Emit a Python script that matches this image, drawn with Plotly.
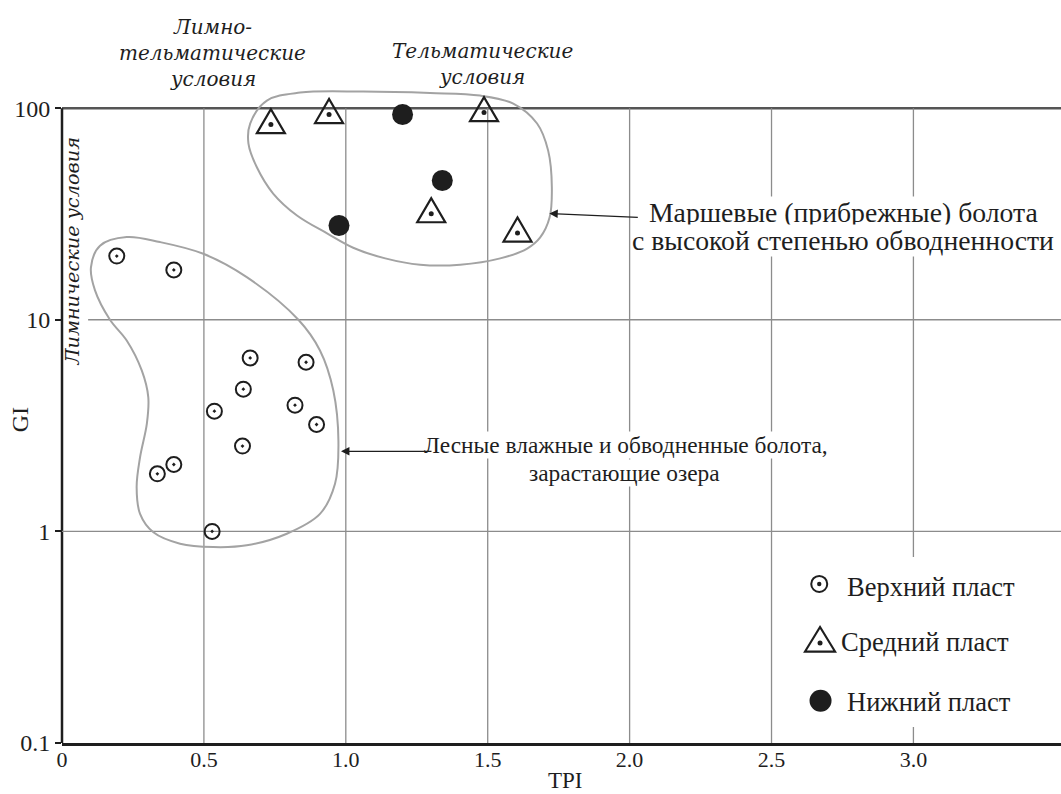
import numpy as np
import plotly.graph_objects as go

# ---- TPI / GI indices by seam layer ----
upper_tpi = [0.193, 0.394, 0.663, 0.860, 0.639, 0.537, 0.821, 0.897, 0.636, 0.394, 0.336, 0.529]
upper_gi = [20.0, 17.2, 6.6, 6.3, 4.7, 3.7, 3.95, 3.2, 2.53, 2.07, 1.87, 1.0]

middle_tpi = [0.736, 0.941, 1.487, 1.301, 1.605]
middle_gi = [83.6, 93.3, 95.3, 31.7, 25.7]

lower_tpi = [1.200, 1.340, 0.976]
lower_gi = [93.3, 45.5, 27.9]

# ---- outlines of the two facies fields (TPI, GI) ----
forest_tpi = [0.228, 0.345, 0.498, 0.651, 0.833, 0.909, 0.956, 0.974, 0.962, 0.909,
              0.792, 0.651, 0.533, 0.416, 0.322, 0.275, 0.263, 0.275, 0.299, 0.304,
              0.281, 0.228, 0.169, 0.116, 0.102, 0.134]
forest_gi = [24.6, 23.3, 20.5, 15.9, 10.0, 7.16, 4.63, 2.66, 1.68, 1.21,
             0.975, 0.859, 0.843, 0.875, 0.99, 1.21, 1.62, 2.24, 3.23, 4.31,
             5.76, 7.98, 10.0, 13.8, 17.7, 22.4]

marsh_tpi = [0.722, 0.839, 1.061, 1.297, 1.473, 1.590, 1.674, 1.713, 1.726, 1.718,
             1.685, 1.639, 1.544, 1.403, 1.262, 1.139, 1.026, 0.934, 0.828, 0.744,
             0.687, 0.657, 0.663]
marsh_gi = [108.6, 118.5, 119.8, 117.9, 114.7, 105.1, 84.6, 63.0, 42.2, 30.4,
            24.5, 21.7, 19.5, 18.2, 18.2, 19.5, 21.9, 25.6, 31.1, 39.5,
            52.4, 68.0, 84.6]

x_ticks = [0, 0.5, 1.0, 1.5, 2.0, 2.5, 3.0]
x_tick_text = ["0", "0.5", "1.0", "1.5", "2.0", "2.5", "3.0"]
y_ticks = [0.1, 1, 10, 100]
y_tick_text = ["0.1", "1", "10", "100"]
y_grid = [1, 10]
y_grid_start = [0.0, 0.092]   # the GI=10 line leaves room for the rotated label

SERIF = "Liberation Serif, Times New Roman, serif"
ITAL_FACE = "DejaVu Serif, serif"
GRID = "#8c8c8c"
OUTLINE = "#a3a3a3"
INK = "#1e1e1e"

fig = go.Figure()

# facies field outlines (closed smooth curves)
for tx, gy in ((forest_tpi, forest_gi), (marsh_tpi, marsh_gi)):
    fig.add_trace(go.Scatter(
        x=tx + tx[:1], y=gy + gy[:1], mode="lines",
        line=dict(color=OUTLINE, width=2, shape="spline", smoothing=1.0),
        hoverinfo="skip", showlegend=False))

fig.add_trace(go.Scatter(
    x=upper_tpi, y=upper_gi, mode="markers", name="Верхний пласт",
    marker=dict(symbol="circle-open-dot", size=15, color=INK, line=dict(width=2, color=INK)),
    cliponaxis=False, showlegend=False))

fig.add_trace(go.Scatter(
    x=middle_tpi, y=middle_gi, mode="markers", name="Средний пласт",
    marker=dict(symbol="circle", size=5, color=INK),
    cliponaxis=False, showlegend=False))

fig.add_trace(go.Scatter(
    x=lower_tpi, y=lower_gi, mode="markers", name="Нижний пласт",
    marker=dict(symbol="circle", size=21, color=INK),
    cliponaxis=False, showlegend=False))

# triangle outlines around the middle-layer points
tri_path = "M-14,-8.5 L14,-8.5 L0,15.5 Z"
for tx, gy in zip(middle_tpi, middle_gi):
    fig.add_shape(type="path", xref="x", yref="y", xsizemode="pixel", ysizemode="pixel",
                  xanchor=tx, yanchor=gy, path=tri_path,
                  line=dict(color=INK, width=2.2), layer="above")

# grid
for xv in x_ticks[1:]:
    fig.add_shape(type="line", xref="x", yref="y", x0=xv, x1=xv, y0=y_ticks[0], y1=y_ticks[-1],
                  line=dict(color=GRID, width=1.3), layer="below")
for yv, xs in zip(y_grid, y_grid_start):
    fig.add_shape(type="line", xref="x", yref="y", x0=xs, x1=3.52, y0=yv, y1=yv,
                  line=dict(color=GRID, width=1.3), layer="below")

# frame: top edge at GI=100 and left edge
fig.add_shape(type="line", xref="paper", yref="y", x0=0, x1=1, y0=y_ticks[-1], y1=y_ticks[-1],
              line=dict(color="#555555", width=2.5), layer="below")
fig.add_shape(type="line", xref="paper", yref="y", x0=0, x1=0, y0=y_ticks[0], y1=y_ticks[-1],
              line=dict(color=INK, width=2.5), layer="below")

# ---- legend ----
fig.add_shape(type="rect", xref="paper", yref="paper", x0=0.7287, x1=1.0, y0=0.0244, y1=0.2835,
              line=dict(width=0), fillcolor="white", layer="above")
fig.add_shape(type="circle", xref="paper", yref="paper", xsizemode="pixel", ysizemode="pixel",
              xanchor=0.758, yanchor=0.2424, x0=-8, x1=8, y0=-8, y1=8,
              line=dict(color=INK, width=2), layer="above")
fig.add_shape(type="circle", xref="paper", yref="paper", xsizemode="pixel", ysizemode="pixel",
              xanchor=0.758, yanchor=0.2424, x0=-2.2, x1=2.2, y0=-2.2, y1=2.2,
              line=dict(width=0), fillcolor=INK, layer="above")
fig.add_shape(type="path", xref="paper", yref="paper", xsizemode="pixel", ysizemode="pixel",
              xanchor=0.7588, yanchor=0.1524, path="M-15,-8.5 L15,-8.5 L0,16 Z",
              line=dict(color=INK, width=2.2), layer="above")
fig.add_shape(type="circle", xref="paper", yref="paper", xsizemode="pixel", ysizemode="pixel",
              xanchor=0.7588, yanchor=0.1524, x0=-2.5, x1=2.5, y0=-2.5, y1=2.5,
              line=dict(width=0), fillcolor=INK, layer="above")
fig.add_shape(type="circle", xref="paper", yref="paper", xsizemode="pixel", ysizemode="pixel",
              xanchor=0.7593, yanchor=0.0645, x0=-11, x1=11, y0=-11, y1=11,
              line=dict(width=0), fillcolor=INK, layer="above")

legend_font = dict(family=SERIF, size=26.5, color=INK)
for label, lx, ly in (("Верхний пласт", 0.7838, 0.2378),
                      ("Средний пласт", 0.7778, 0.154),
                      ("Нижний пласт", 0.7838, 0.0625)):
    fig.add_annotation(text=label, xref="paper", yref="paper", x=lx, y=ly,
                       xanchor="left", yanchor="middle", showarrow=False, font=legend_font)

# ---- labels ----
ital = dict(family=ITAL_FACE, size=20, color=INK, style="italic")
for line, lx, ly in (("Лимно-", 0.532, 1.0915),
                     ("тельматические", 0.532, 1.0518),
                     ("условия", 0.532, 1.0122),
                     ("Тельматические", 1.480, 1.0549),
                     ("условия", 1.480, 1.0152)):
    fig.add_annotation(text=line, xref="x", yref="paper", x=lx, y=ly,
                       xanchor="center", yanchor="middle", showarrow=False, font=ital)
fig.add_annotation(text="Лимнические условия", xref="x", yref="y",
                   x=0.0388, y=np.log10(21.0), textangle=-90, showarrow=False,
                   xanchor="center", yanchor="middle",
                   font=dict(ital, size=19.3))

marsh_font = dict(family=SERIF, size=27.7, color=INK)
forest_font = dict(family=SERIF, size=23.4, color=INK)
for line, lx, gy, fnt in (("Маршевые (прибрежные) болота", 2.753, 32.1, marsh_font),
                          ("с высокой степенью обводненности", 2.753, 23.7, marsh_font),
                          ("Лесные влажные и обводненные болота,", 1.988, 2.55, forest_font),
                          ("зарастающие озера", 1.981, 1.88, forest_font)):
    fig.add_annotation(text=line, xref="x", yref="y", x=lx, y=np.log10(gy),
                       xanchor="center", yanchor="middle", showarrow=False,
                       font=fnt, bgcolor="white", borderpad=0)

# pointer arrows to the field outlines
arrow = dict(showarrow=True, arrowhead=2, arrowsize=1.3, arrowwidth=1.3, arrowcolor=INK,
             text="", xref="x", yref="y")
fig.add_annotation(x=1.717, y=np.log10(31.8), ax=90, ay=4, **arrow)
fig.add_annotation(x=0.983, y=np.log10(2.39), ax=92, ay=0, **arrow)

# axis titles
fig.add_annotation(text="TPI", xref="paper", yref="paper", x=0.5045, y=-0.0575,
                   xanchor="center", yanchor="middle", borderpad=0,
                   showarrow=False, font=dict(family=SERIF, size=23, color=INK))
fig.add_annotation(text="GI", xref="paper", yref="paper", x=-0.042, y=0.492, textangle=-90,
                   xanchor="center", yanchor="middle",
                   showarrow=False, font=dict(family=SERIF, size=24, color=INK))

fig.update_xaxes(range=[0, 3.52], tickvals=x_ticks, ticktext=x_tick_text,
                 showgrid=False, zeroline=False, showline=True, linecolor=INK, linewidth=2.5,
                 ticks="", ticklabelstandoff=-5,
                 tickfont=dict(family=SERIF, size=22, color=INK))
fig.update_yaxes(type="log", range=[-1, 2.1], tickvals=y_ticks, ticktext=y_tick_text,
                 showgrid=False, zeroline=False, showline=False,
                 ticks="outside", ticklen=6, tickwidth=2, tickcolor=INK,
                 tickfont=dict(family=SERIF, size=24, color=INK))

fig.update_layout(width=1061, height=794, margin=dict(l=62, r=0, t=87, b=51),
                  plot_bgcolor="white", paper_bgcolor="white", showlegend=False)

fig.write_html("out.html")
